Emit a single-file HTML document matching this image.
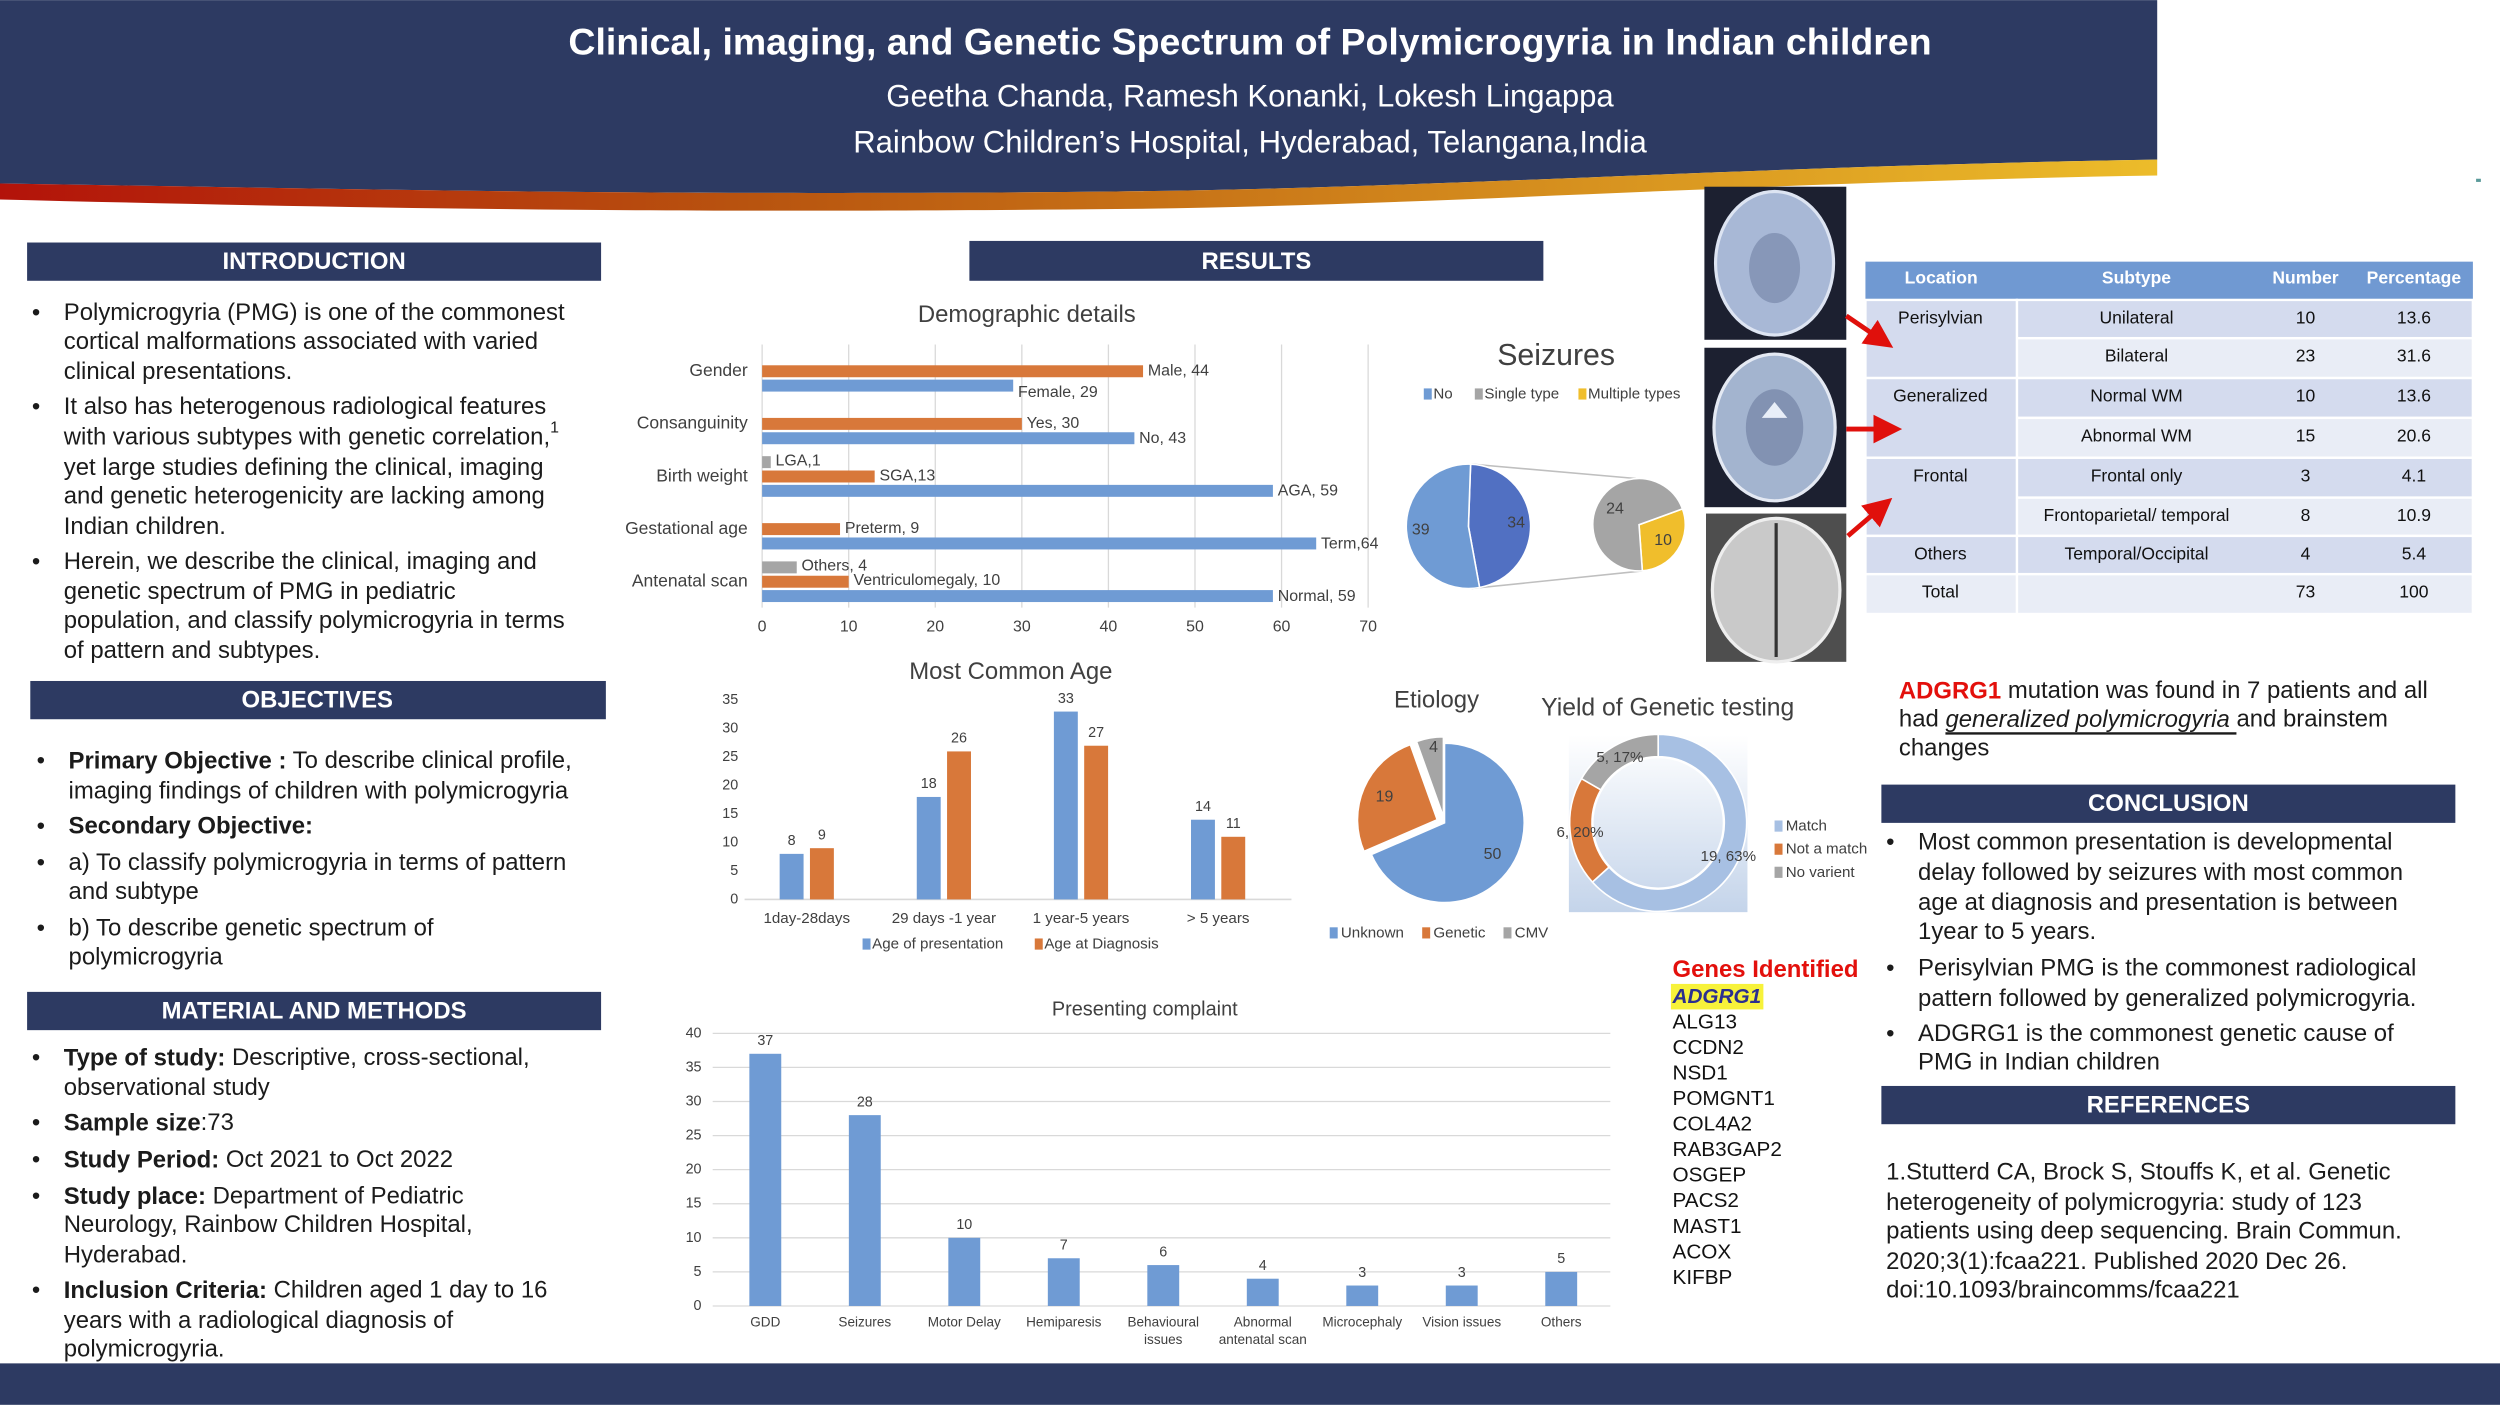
<!DOCTYPE html>
<html><head><meta charset="utf-8"><title>Polymicrogyria poster</title>
<style>
html,body{margin:0;padding:0;background:#fff;overflow:hidden}
svg{display:block;font-family:"Liberation Sans",Arial,sans-serif}
.bt{font-size:15px;fill:#1b1b1b}
.hd{font-size:15px;font-weight:bold;fill:#fff}
</style></head>
<body>
<svg id="s" width="2500" height="1405" viewBox="0 0 1568 881" xmlns="http://www.w3.org/2000/svg">
<defs>
<linearGradient id="sw" x1="0" x2="1" y1="0" y2="0"><stop offset="0" stop-color="#b3130a"/><stop offset="0.35" stop-color="#b8540f"/><stop offset="1" stop-color="#ecbc2a"/></linearGradient>
<linearGradient id="dbg" x1="0" x2="0" y1="0" y2="1"><stop offset="0" stop-color="#ffffff"/><stop offset="1" stop-color="#c4d4ea"/></linearGradient>
<marker id="ah" markerWidth="6" markerHeight="6" refX="3" refY="3" orient="auto"><path d="M0,0 L6,3 L0,6 Z" fill="#e0100c"/></marker>
</defs>
<rect x="0" y="0" width="1568" height="881" fill="#fff"/>
<!-- header -->
<path d="M0,0 H1353 V100 C1100,104 900,118 700,120 C400,123 200,118 0,115 Z" fill="#2d3a62"/>
<path d="M0,115 C200,118 400,123 700,120 C900,118 1100,104 1353,100 V110 C1100,114 900,129 700,131 C400,134 200,130 0,125 Z" fill="url(#sw)"/>
<text x="784" y="26" text-anchor="middle" dominant-baseline="central" font-size="23.5" font-weight="bold" fill="#fff">Clinical, imaging, and Genetic Spectrum of Polymicrogyria in Indian children</text>
<text x="784" y="60" text-anchor="middle" dominant-baseline="central" font-size="19.5" fill="#fff">Geetha Chanda, Ramesh Konanki, Lokesh Lingappa</text>
<text x="784" y="89" text-anchor="middle" dominant-baseline="central" font-size="19.5" fill="#fff">Rainbow Children’s Hospital, Hyderabad, Telangana,India</text>
<rect x="0" y="855" width="1568" height="26" fill="#2d3a62"/>

<!-- section headers -->
<g><rect x="17" y="152" width="360" height="24" fill="#2d3a62"/><text class="hd" x="197" y="164" text-anchor="middle" dominant-baseline="central">INTRODUCTION</text></g>
<g><rect x="19" y="427" width="361" height="24" fill="#2d3a62"/><text class="hd" x="199" y="439" text-anchor="middle" dominant-baseline="central">OBJECTIVES</text></g>
<g><rect x="17" y="622" width="360" height="24" fill="#2d3a62"/><text class="hd" x="197" y="634" text-anchor="middle" dominant-baseline="central">MATERIAL AND METHODS</text></g>
<g><rect x="608" y="151" width="360" height="25" fill="#2d3a62"/><text class="hd" x="788" y="164" text-anchor="middle" dominant-baseline="central">RESULTS</text></g>
<g><rect x="1180" y="492" width="360" height="24" fill="#2d3a62"/><text class="hd" x="1360" y="504" text-anchor="middle" dominant-baseline="central">CONCLUSION</text></g>
<g><rect x="1180" y="681" width="360" height="24" fill="#2d3a62"/><text class="hd" x="1360" y="693" text-anchor="middle" dominant-baseline="central">REFERENCES</text></g>

<!-- introduction text -->
<g class="bt" dominant-baseline="central">
<text x="20" y="196">•</text><text x="40" y="196">Polymicrogyria (PMG) is one of the commonest</text>
<text x="40" y="214">cortical malformations associated with varied</text>
<text x="40" y="233">clinical presentations.</text>
<text x="20" y="255">•</text><text x="40" y="255"> It also has heterogenous radiological features</text>
<text x="40" y="274">with various subtypes with genetic correlation,<tspan font-size="10" dy="-6">1</tspan></text>
<text x="40" y="293">yet large studies defining the clinical, imaging</text>
<text x="40" y="311">and genetic heterogenicity are lacking among</text>
<text x="40" y="330">Indian children.</text>
<text x="20" y="352">•</text><text x="40" y="352">Herein, we describe the clinical, imaging and</text>
<text x="40" y="371">genetic spectrum of PMG in pediatric</text>
<text x="40" y="389">population, and classify polymicrogyria in terms</text>
<text x="40" y="408">of pattern and subtypes.</text>
</g>
<g class="bt" dominant-baseline="central">
<text x="23" y="477">•</text><text x="43" y="477"><tspan font-weight="bold">Primary Objective :</tspan> To describe clinical profile,</text>
<text x="43" y="496">imaging findings of children with polymicrogyria</text>
<text x="23" y="518">•</text><text x="43" y="518" font-weight="bold">Secondary Objective:</text>
<text x="23" y="541">•</text><text x="43" y="541">a) To classify polymicrogyria in terms of pattern</text>
<text x="43" y="559">and subtype</text>
<text x="23" y="582">•</text><text x="43" y="582"> b) To describe genetic spectrum of</text>
<text x="43" y="600">polymicrogyria</text>
</g>
<g class="bt" dominant-baseline="central">
<text x="20" y="663">•</text><text x="40" y="663"><tspan font-weight="bold">Type of study:</tspan> Descriptive, cross-sectional,</text>
<text x="40" y="682">observational study</text>
<text x="20" y="704">•</text><text x="40" y="704"><tspan font-weight="bold">Sample size</tspan>:73</text>
<text x="20" y="727">•</text><text x="40" y="727"><tspan font-weight="bold">Study Period:</tspan> Oct 2021 to Oct 2022</text>
<text x="20" y="750">•</text><text x="40" y="750"><tspan font-weight="bold">Study place:</tspan> Department of Pediatric</text>
<text x="40" y="768">Neurology, Rainbow Children Hospital,</text>
<text x="40" y="787">Hyderabad.</text>
<text x="20" y="809">•</text><text x="40" y="809"><tspan font-weight="bold">Inclusion Criteria:</tspan> Children aged 1 day to 16</text>
<text x="40" y="828">years with a radiological diagnosis of</text>
<text x="40" y="846">polymicrogyria.</text>
</g>
<!-- right text -->
<g class="bt" dominant-baseline="central">
<text x="1191" y="433"><tspan fill="#e3100c" font-weight="bold">ADGRG1</tspan> mutation was found in 7 patients and all</text>
<text x="1191" y="451">had <tspan font-style="italic" text-decoration="underline">generalized polymicrogyria </tspan>and brainstem</text>
<text x="1191" y="469">changes</text>
</g>
<g class="bt" dominant-baseline="central">
<text x="1183" y="528">•</text><text x="1203" y="528">Most common presentation is developmental</text>
<text x="1203" y="547">delay followed by seizures with most common</text>
<text x="1203" y="566">age at diagnosis and presentation is between</text>
<text x="1203" y="584">1year to 5 years.</text>
<text x="1183" y="607">•</text><text x="1203" y="607">Perisylvian PMG is the commonest radiological</text>
<text x="1203" y="626">pattern followed by generalized polymicrogyria.</text>
<text x="1183" y="648">•</text><text x="1203" y="648"> ADGRG1 is the commonest genetic cause of</text>
<text x="1203" y="666">PMG in Indian children</text>
</g>
<g class="bt" dominant-baseline="central">
<text x="1183" y="735">1.Stutterd CA, Brock S, Stouffs K, et al. Genetic</text>
<text x="1183" y="754">heterogeneity of polymicrogyria: study of 123</text>
<text x="1183" y="772">patients using deep sequencing. Brain Commun.</text>
<text x="1183" y="791">2020;3(1):fcaa221. Published 2020 Dec 26.</text>
<text x="1183" y="809">doi:10.1093/braincomms/fcaa221</text>
</g>
<!-- genes -->
<g dominant-baseline="central" font-size="13" fill="#111">
<text x="1049" y="608" font-size="15" font-weight="bold" fill="#e3100c">Genes Identified</text>
<rect x="1048" y="617" width="58" height="16" fill="#f7f23a"/>
<text x="1049" y="625" font-weight="bold" font-style="italic" fill="#2b2f8f">ADGRG1</text>
<text x="1049" y="641">ALG13</text><text x="1049" y="657">CCDN2</text><text x="1049" y="673">NSD1</text>
<text x="1049" y="689">POMGNT1</text><text x="1049" y="705">COL4A2</text><text x="1049" y="721">RAB3GAP2</text>
<text x="1049" y="737">OSGEP</text><text x="1049" y="753">PACS2</text><text x="1049" y="769">MAST1</text>
<text x="1049" y="785">ACOX</text><text x="1049" y="801">KIFBP</text>
</g>
<!-- MRI images -->
<g><rect x="1069" y="117" width="89" height="96" fill="#1c2030"/><ellipse cx="1113" cy="165" rx="37" ry="45" fill="#a8b8d6" stroke="#dde4f2" stroke-width="2"/><ellipse cx="1113" cy="168" rx="16" ry="22" fill="#8797b8"/></g>
<g><rect x="1069" y="218" width="89" height="100" fill="#1c2030"/><ellipse cx="1113" cy="268" rx="38" ry="46" fill="#a3b4cf" stroke="#e4e9f3" stroke-width="2"/><ellipse cx="1113" cy="268" rx="18" ry="24" fill="#8292b2"/><path d="M1105,262 L1113,252 L1121,262 Z" fill="#e8eef8"/></g>
<g><rect x="1070" y="322" width="88" height="93" fill="#4e4e4e"/><ellipse cx="1114" cy="370" rx="40" ry="45" fill="#c9c9c9" stroke="#eee" stroke-width="2"/><line x1="1114" y1="328" x2="1114" y2="412" stroke="#333" stroke-width="2"/></g>
<rect x="1553" y="112" width="3" height="2" fill="#5a9a9a"/>
<g id="charts"></g>
<line x1="1158" y1="198" x2="1180" y2="213" stroke="#e0100c" stroke-width="3" marker-end="url(#ah)"/>
<line x1="1158" y1="269" x2="1184" y2="269" stroke="#e0100c" stroke-width="3" marker-end="url(#ah)"/>
<line x1="1159" y1="336" x2="1180" y2="318" stroke="#e0100c" stroke-width="3" marker-end="url(#ah)"/>
</svg>
<script>
// ---------- data ----------
const demoCats = ['Gender','Consanguinity','Birth weight','Gestational age','Antenatal scan'];
const demoBlue = [29,43,59,64,59];
const demoBlueLabels = ['Female, 29','No, 43','AGA, 59','Term,64','Normal, 59'];
const demoOrange = [44,30,13,9,10];
const demoOrangeLabels = ['Male, 44','Yes, 30','SGA,13','Preterm, 9','Ventriculomegaly, 10'];
const demoGray = [null,null,1,null,4];
const demoGrayLabels = ['','','LGA,1','','Others, 4'];
const demoTicks = [0,10,20,30,40,50,60,70];

const seizureMain = [34,39];
const seizureMainLabels = ['34','39'];
const seizureSub = [10,24];
const seizureSubLabels = ['10','24'];

const ageCats = ['1day-28days','29 days -1 year','1 year-5 years','> 5 years'];
const agePresentation = [8,18,33,14];
const ageDiagnosis = [9,26,27,11];
const ageTicks = [0,5,10,15,20,25,30,35];

const etioCats = ['Unknown','Genetic','CMV'];
const etioVals = [50,19,4];

const yieldCats = ['Match','Not a match','No varient'];
const yieldVals = [19,6,5];
const yieldLabels = ['19, 63%','6, 20%','5, 17%'];

const pcCats = ['GDD','Seizures','Motor Delay','Hemiparesis','Behavioural\nissues','Abnormal\nantenatal scan','Microcephaly','Vision issues','Others'];
const pcVals = [37,28,10,7,6,4,3,3,5];
const pcTicks = [0,5,10,15,20,25,30,35,40];

const tblHead = ['Location','Subtype','Number','Percentage'];
const tblLoc = ['Perisylvian','','Generalized','','Frontal','','Others','Total'];
const tblSub = ['Unilateral','Bilateral','Normal WM','Abnormal WM','Frontal only','Frontoparietal/ temporal','Temporal/Occipital',''];
const tblNum = ['10','23','10','15','3','8','4','73'];
const tblPct = ['13.6','31.6','13.6','20.6','4.1','10.9','5.4','100'];

// ---------- helpers ----------
const NS='http://www.w3.org/2000/svg';
const root=document.getElementById('charts');
const BLUE='#6f9bd4', ORANGE='#d8783a', GRAY='#a5a5a5', YELLOW='#f0be2c', DBLUE='#5170c2', TXT='#404040';
function mk(tag, attrs, name){
  const el=document.createElementNS(NS,tag);
  for(const k in attrs) el.setAttribute(k,attrs[k]);
  
  
  root.appendChild(el);
  return el;
}
function tx(x,y,s,size,fill,anchor,name,weight){
  const el=mk('text',{x:x,y:y,'font-size':size,fill:fill||TXT,'text-anchor':anchor||'start','dominant-baseline':'central','font-weight':weight||'normal'},name);
  el.textContent=s;
  return el;
}
function arc(cx,cy,r,a0,a1){
  const p=a=>[cx+r*Math.sin(a*Math.PI/180), cy-r*Math.cos(a*Math.PI/180)];
  const [x0,y0]=p(a0),[x1,y1]=p(a1);
  return `M${cx},${cy} L${x0},${y0} A${r},${r} 0 ${a1-a0>180?1:0} 1 ${x1},${y1} Z`;
}
function ring(cx,cy,r,ri,a0,a1){
  const p=(a,rr)=>[cx+rr*Math.sin(a*Math.PI/180), cy-rr*Math.cos(a*Math.PI/180)];
  const L=a1-a0>180?1:0;
  const [x0,y0]=p(a0,r),[x1,y1]=p(a1,r),[x2,y2]=p(a1,ri),[x3,y3]=p(a0,ri);
  return `M${x0},${y0} A${r},${r} 0 ${L} 1 ${x1},${y1} L${x2},${y2} A${ri},${ri} 0 ${L} 0 ${x3},${y3} Z`;
}
function sq(x,y,c,name){ return mk('rect',{x:x,y:y-3.5,width:5,height:7,fill:c},name); }

// ---------- demographic chart ----------
tx(644,197,'Demographic details',15,TXT,'middle','demographic-title');
const xD=v=>478+v*5.43;
const yD=i=>237+i*33;
demoTicks.forEach(t=>{
  mk('line',{x1:xD(t),x2:xD(t),y1:216,y2:381,stroke:'#d9d9d9','stroke-width':0.8},'demo-gridline');
  tx(xD(t),393,String(t),10,TXT,'middle','demo-x-tick');
});
demoCats.forEach((c,i)=>{
  const cy=yD(i);
  tx(469,cy-5,c,11,TXT,'end','demo-category-label');
  mk('rect',{x:xD(0),y:cy+1,width:xD(demoBlue[i])-xD(0),height:7.5,fill:BLUE},'demo-bar-blue');
  tx(xD(demoBlue[i])+3,cy+(i===0?9:5),demoBlueLabels[i],10,TXT,'start','demo-value-label');
  mk('rect',{x:xD(0),y:cy-8,width:xD(demoOrange[i])-xD(0),height:7.5,fill:ORANGE},'demo-bar-orange');
  tx(xD(demoOrange[i])+3,cy-(i===4?5:4.5),demoOrangeLabels[i],10,TXT,'start','demo-value-label');
  if(demoGray[i]!==null){
    mk('rect',{x:xD(0),y:cy-17,width:xD(demoGray[i])-xD(0),height:7.5,fill:GRAY},'demo-bar-gray');
    tx(xD(demoGray[i])+3,cy-14,demoGrayLabels[i],10,TXT,'start','demo-value-label');
  }
});

// ---------- seizures ----------
tx(976,223,'Seizures',19,TXT,'middle','seizures-title');
sq(893,247,BLUE,'legend-swatch-no'); tx(899,247,'No',9.5,TXT,'start','legend-no');
sq(925,247,GRAY,'legend-swatch-single'); tx(931,247,'Single type',9.5,TXT,'start','legend-single-type');
sq(990,247,YELLOW,'legend-swatch-multiple'); tx(996,247,'Multiple types',9.5,TXT,'start','legend-multiple-types');
mk('line',{x1:923,y1:291,x2:1026,y2:300,stroke:'#bfbfbf','stroke-width':1},'pie-connector');
mk('line',{x1:923,y1:369,x2:1030,y2:358,stroke:'#bfbfbf','stroke-width':1},'pie-connector');
(function(){
  const tot=seizureMain.reduce((a,b)=>a+b,0); let a=2; const cols=[DBLUE,BLUE];
  seizureMain.forEach((v,i)=>{ const a1=a+v/tot*360;
    mk('path',{d:arc(921,330,39,a,a1),fill:cols[i],stroke:'#fff','stroke-width':1},'seizure-main-slice');
    const m=(a+a1)/2*Math.PI/180;
    tx(921+30*Math.sin(m),330-30*Math.cos(m),seizureMainLabels[i],10,TXT,'middle','seizure-main-label');
    a=a1; });
  const tot2=seizureSub.reduce((a,b)=>a+b,0); let b=70; const cols2=[YELLOW,GRAY];
  seizureSub.forEach((v,i)=>{ const b1=b+v/tot2*360;
    mk('path',{d:arc(1028,329,29,b,b1),fill:cols2[i],stroke:'#fff','stroke-width':1},'seizure-sub-slice');
    const m=(b+b1)/2*Math.PI/180;
    tx(1028+18*Math.sin(m),329-18*Math.cos(m),seizureSubLabels[i],10,TXT,'middle','seizure-sub-label');
    b=b1; });
})();

// ---------- table ----------
(function(){
  const cx=[1170,1265,1415,1477,1551];
  mk('rect',{x:1170,y:164,width:381,height:24,fill:'#7099d2'},'table-header-bg');
  tblHead.forEach((h,j)=>tx((cx[j]+cx[j+1])/2,174,h,11,'#fff','middle','table-header-cell','bold'));
  const rowY=[188,212,237,262,287,312,336,360,385];
  for(let r=0;r<8;r++){
    const fill=r%2===0?'#d4dbee':'#e9edf6';
    mk('rect',{x:1265,y:rowY[r],width:286,height:rowY[r+1]-rowY[r],fill:fill,stroke:'#fff','stroke-width':1.5},'table-row-bg');
    tx(1340,rowY[r]+11,tblSub[r],11,'#111','middle','table-subtype-cell');
    tx(1446,rowY[r]+11,tblNum[r],11,'#111','middle','table-number-cell');
    tx(1514,rowY[r]+11,tblPct[r],11,'#111','middle','table-percentage-cell');
  }
  const spans=[[0,2],[2,4],[4,6],[6,7],[7,8]];
  spans.forEach(([a,b])=>{
    mk('rect',{x:1170,y:rowY[a],width:95,height:rowY[b]-rowY[a],fill:a===7?'#e9edf6':'#d4dbee',stroke:'#fff','stroke-width':1.5},'table-location-bg');
    tx(1217,rowY[a]+11,tblLoc[a],11,'#111','middle','table-location-cell');
  });
})();

// ---------- age chart ----------
tx(634,421,'Most Common Age',15,TXT,'middle','age-title');
const yA=v=>564-v*3.57;
const xA=i=>506+i*86;
ageTicks.forEach(t=>tx(463,yA(t),String(t),9,TXT,'end','age-y-tick'));
mk('line',{x1:467,x2:810,y1:564,y2:564,stroke:'#d9d9d9','stroke-width':1},'age-baseline');
ageCats.forEach((c,i)=>{
  const cx=xA(i);
  mk('rect',{x:cx-17,y:yA(agePresentation[i]),width:15,height:564-yA(agePresentation[i]),fill:BLUE},'age-bar-presentation');
  tx(cx-9.5,yA(agePresentation[i])-8,String(agePresentation[i]),9,TXT,'middle','age-value-label');
  mk('rect',{x:cx+2,y:yA(ageDiagnosis[i]),width:15,height:564-yA(ageDiagnosis[i]),fill:ORANGE},'age-bar-diagnosis');
  tx(cx+9.5,yA(ageDiagnosis[i])-8,String(ageDiagnosis[i]),9,TXT,'middle','age-value-label');
  tx(cx,576,c,9.5,TXT,'middle','age-category-label');
});
sq(541,592,BLUE,'legend-swatch-presentation'); tx(547,592,'Age of presentation',9.5,TXT,'start','legend-age-presentation');
sq(649,592,ORANGE,'legend-swatch-diagnosis'); tx(655,592,'Age at Diagnosis',9.5,TXT,'start','legend-age-diagnosis');

// ---------- etiology ----------
tx(901,439,'Etiology',15,TXT,'middle','etiology-title');
(function(){
  const tot=etioVals.reduce((a,b)=>a+b,0); let a=0; const cols=[BLUE,ORANGE,GRAY]; const ex=[0,5,4];
  etioVals.forEach((v,i)=>{ const a1=a+v/tot*360; const m=(a+a1)/2*Math.PI/180;
    const cx=906+ex[i]*Math.sin(m), cy=516-ex[i]*Math.cos(m);
    mk('path',{d:arc(cx,cy,50,a,a1),fill:cols[i],stroke:'#fff','stroke-width':1},'etiology-slice');
    tx(cx+36*Math.sin(m),cy-36*Math.cos(m)+(i===2?-8:0),String(v),10,TXT,'middle','etiology-label');
    a=a1; });
})();
sq(834,585,BLUE,'legend-swatch-unknown'); tx(841,585,'Unknown',9.5,TXT,'start','legend-unknown');
sq(892,585,ORANGE,'legend-swatch-genetic'); tx(899,585,'Genetic',9.5,TXT,'start','legend-genetic');
sq(943,585,GRAY,'legend-swatch-cmv'); tx(950,585,'CMV',9.5,TXT,'start','legend-cmv');

// ---------- yield donut ----------
tx(1046,444,'Yield of Genetic testing',15.5,TXT,'middle','yield-title');
mk('rect',{x:984,y:461,width:112,height:111,fill:'url(#dbg)'},'yield-plot-bg');
(function(){
  const tot=yieldVals.reduce((a,b)=>a+b,0); let a=0; const cols=['#a7c0e3',ORANGE,GRAY];
  yieldVals.forEach((v,i)=>{ const a1=a+v/tot*360;
    mk('path',{d:ring(1040,516,55.5,41.5,a,a1),fill:cols[i],stroke:'#fff','stroke-width':1},'yield-slice');
    a=a1; });
  mk('circle',{cx:1040,cy:516,r:41,fill:'none',stroke:'#fff','stroke-width':1},'yield-inner-edge');
  const pos=[[1084,537],[991,522],[1016,475]];
  yieldLabels.forEach((l,i)=>tx(pos[i][0],pos[i][1],l,9.5,TXT,'middle','yield-label'));
  const lc=['#a7c0e3',ORANGE,GRAY];
  yieldCats.forEach((c,i)=>{ sq(1113,518+i*14.5,lc[i],'yield-legend-swatch'); tx(1120,518+i*14.5,c,9.5,TXT,'start','yield-legend-entry'); });
})();

// ---------- presenting complaint ----------
tx(718,633,'Presenting complaint',12.5,TXT,'middle','presenting-title');
const yP=v=>819-v*4.275;
const xP=i=>480+i*62.4;
pcTicks.forEach(t=>{
  mk('line',{x1:447,x2:1010,y1:yP(t),y2:yP(t),stroke:'#d9d9d9','stroke-width':0.8},'presenting-gridline');
  tx(440,yP(t),String(t),9,TXT,'end','presenting-y-tick');
});
pcCats.forEach((c,i)=>{
  const cx=xP(i);
  mk('rect',{x:cx-10,y:yP(pcVals[i]),width:20,height:819-yP(pcVals[i]),fill:BLUE},'presenting-bar');
  tx(cx,yP(pcVals[i])-8,String(pcVals[i]),9,TXT,'middle','presenting-value-label');
  c.split('\n').forEach((ln,k)=>tx(cx,829+k*11,ln,8.5,TXT,'middle','presenting-category-label'));
});
</script>
</body></html>
